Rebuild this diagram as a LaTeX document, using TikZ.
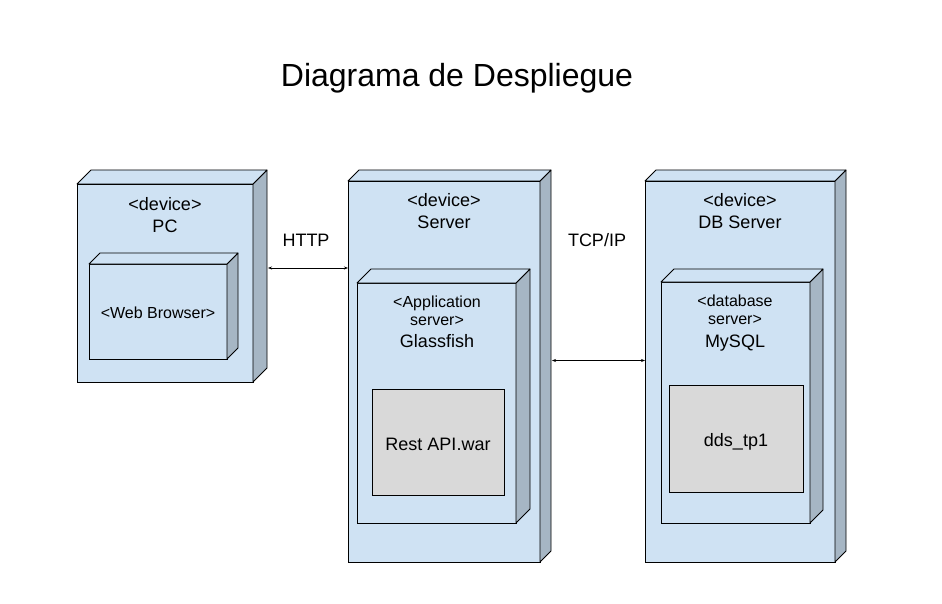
\documentclass[tikz,border=0pt]{standalone}
\usepackage{fontspec}
\setmainfont{Liberation Sans}
\usepackage[HTML]{xcolor}
\usepackage{tikz}
\usetikzlibrary{positioning, arrows, arrows.meta}

\definecolor{nodeblue}{HTML}{CFE2F3}
\definecolor{nodeside}{HTML}{A6B6C4}
\definecolor{artgray}{HTML}{D9D9D9}

\tikzset{
  face/.style={draw=black, line width=0.8pt, fill=nodeblue, inner sep=0pt, outer sep=0pt, anchor=north west},
  artifact/.style={draw=black, line width=0.8pt, fill=artgray, inner sep=0pt, outer sep=0pt, anchor=north west},
  sideface/.style={draw=black, line width=0.8pt, fill=nodeside, line join=round},
  topface/.style={draw=black, line width=0.8pt, fill=nodeblue, line join=round},
  link/.style={{Stealth[length=4pt,width=3pt]}-{Stealth[length=4pt,width=3pt]}, line width=0.6pt},
  txt/.style={font=\fontsize{18}{22}\selectfont, anchor=base, inner sep=0pt},
  smalltxt/.style={font=\fontsize{16}{19}\selectfont, anchor=base, inner sep=0pt}
}

% top and right face of a 3D node box
\newcommand{\cubefaces}[2]{%
  \filldraw[sideface] (#1.north east) -- ++(#2,-#2) -- ([shift={(#2pt,#2pt)}]#1.south east) -- (#1.south east) -- cycle;
  \filldraw[topface] (#1.north west) -- ++(#2,-#2) -- ([shift={(#2pt,#2pt)}]#1.north east) -- (#1.north east) -- cycle;
}

\begin{document}
\begin{tikzpicture}[x=1pt, y=-1pt]
\useasboundingbox (0,0) rectangle (942,604);

% Title
\node[font=\fontsize{32}{38}\selectfont, anchor=base, inner sep=0pt] (title) at (457,87) {Diagrama de Despliegue};

% PC device
\node[face, minimum width=176pt, minimum height=198pt] (pc) at (77,184) {};
\cubefaces{pc}{14}
\node[txt] (pcst) at (165,211) {<device>};
\node[txt] (pcname) at (165,233) {PC};
\node[face, minimum width=138pt, minimum height=95pt] (browser) at (89,264) {};
\cubefaces{browser}{11}
\node[smalltxt] (browsertxt) at (158,318) {<Web Browser>};

% Server device
\node[face, minimum width=192pt, minimum height=381pt] (server) at (348,181) {};
\cubefaces{server}{11}
\node[txt] (serverst) at (444,207) {<device>};
\node[txt] (servername) at (444,229) {Server};
\node[face, minimum width=159pt, minimum height=240pt] (glassfish) at (357,283) {};
\cubefaces{glassfish}{14}
\node[smalltxt] (appst1) at (437,307) {<Application};
\node[smalltxt] (appst2) at (437,325) {server>};
\node[txt] (appname) at (437,347) {Glassfish};
\node[artifact, minimum width=132pt, minimum height=106pt] (war) at (372,389) {};
\node[txt] (wartxt) at (438,450) {Rest API.war};

% DB Server device
\node[face, minimum width=190pt, minimum height=381pt] (db) at (645,181) {};
\cubefaces{db}{11}
\node[txt] (dbst) at (740,207) {<device>};
\node[txt] (dbname) at (740,229) {DB Server};
\node[face, minimum width=149pt, minimum height=241pt] (mysql) at (661,282) {};
\cubefaces{mysql}{13}
\node[smalltxt] (dbsrvst1) at (735,306) {<database};
\node[smalltxt] (dbsrvst2) at (735,324) {server>};
\node[txt] (dbsrvname) at (735,347) {MySQL};
\node[artifact, minimum width=134pt, minimum height=107pt] (schema) at (669,385) {};
\node[txt] (schematxt) at (736,446) {dds\_tp1};

% Connections
\coordinate (httpstart) at ([shift={(15pt,15pt)}]pc.east);
\draw[link] (httpstart) -- (httpstart -| server.west);
\node[txt] (http) at (306,247) {HTTP};
\coordinate (tcpstart) at ([shift={(12pt,11pt)}]server.east);
\draw[link] (tcpstart) -- (tcpstart -| db.west);
\node[txt] (tcp) at (597,247) {TCP/IP};
\end{tikzpicture}
\end{document}
